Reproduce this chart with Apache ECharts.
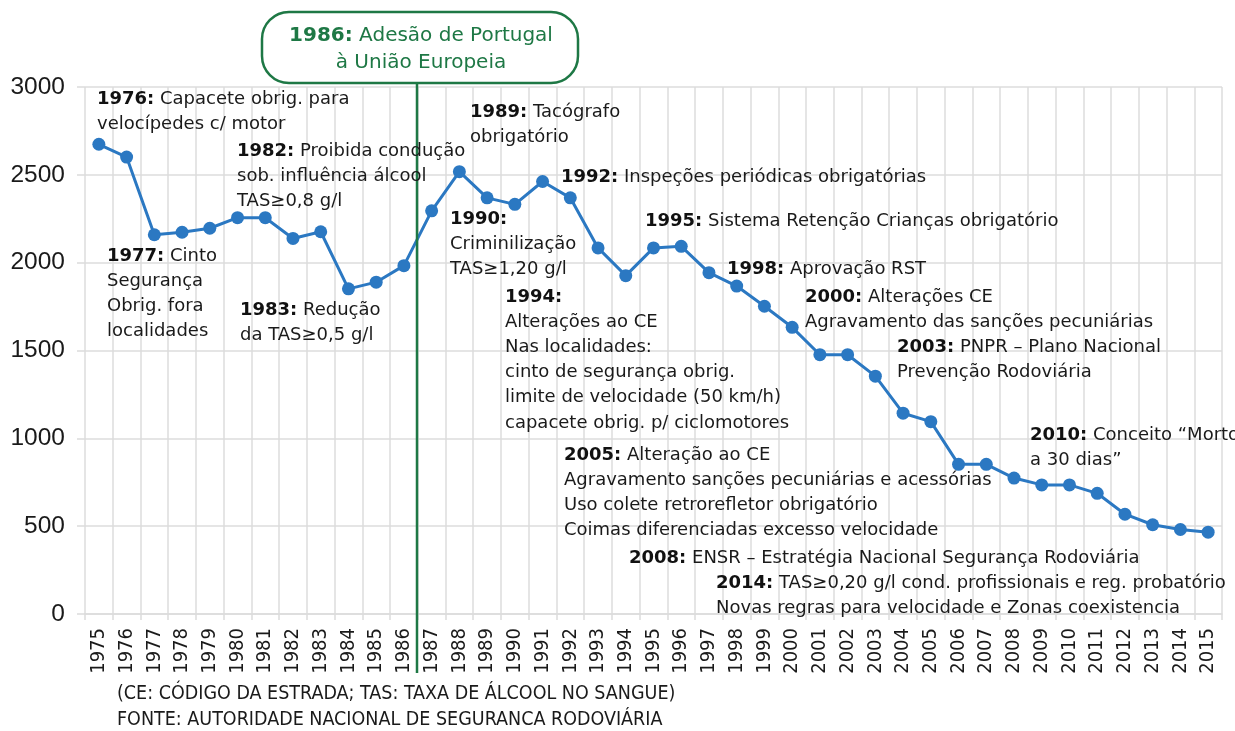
<!DOCTYPE html>
<html>
<head>
<meta charset="utf-8">
<script src="https://cdn.jsdelivr.net/npm/echarts@6/dist/echarts.min.js"></script>
<style>
  html, body { margin: 0; padding: 0; background: #fff; }
  #chart { width: 1235px; height: 731px; }
</style>
</head>
<body>
<div id="chart"></div>
<script>
// dados: vítimas mortais por ano
var years = ['1975','1976','1977','1978','1979','1980','1981','1982','1983','1984','1985','1986','1987','1988',
  '1989','1990','1991','1992','1993','1994','1995','1996','1997','1998','1999','2000','2001','2002','2003',
  '2004','2005','2006','2007','2008','2009','2010','2011','2012','2013','2014','2015'];
var deaths = [2674,2601,2159,2173,2196,2256,2256,2138,2176,1851,1889,1983,2295,2518,
  2369,2332,2462,2369,2084,1926,2084,2093,1943,1867,1752,1632,1476,1476,1354,
  1143,1095,852,852,774,735,735,687,568,508,481,466];
var yTicks = [0, 500, 1000, 1500, 2000, 2500, 3000];

var noteYears = ['1976','1977','1982','1983','1989','1990','1992','1994','1995','1998','2000','2003','2005','2008','2010','2014'];
var noteTexts = [
  'Capacete obrig. para\nvelocípedes c/ motor',
  'Cinto\nSegurança\nObrig. fora\nlocalidades',
  'Proibida condução\nsob. influência álcool\nTAS≥0,8 g/l',
  'Redução\nda TAS≥0,5 g/l',
  'Tacógrafo\nobrigatório',
  '\nCriminilização\nTAS≥1,20 g/l',
  'Inspeções periódicas obrigatórias',
  '\nAlterações ao CE\nNas localidades:\ncinto de segurança obrig.\nlimite de velocidade (50 km/h)\ncapacete obrig. p/ ciclomotores',
  'Sistema Retenção Crianças obrigatório',
  'Aprovação RST',
  'Alterações CE\nAgravamento das sanções pecuniárias',
  'PNPR – Plano Nacional\nPrevenção Rodoviária',
  'Alteração ao CE\nAgravamento sanções pecuniárias e acessórias\nUso colete retrorefletor obrigatório\nCoimas diferenciadas excesso velocidade',
  'ENSR – Estratégia Nacional Segurança Rodoviária',
  'Conceito “Morto\na 30 dias”',
  'TAS≥0,20 g/l cond. profissionais e reg. probatório\nNovas regras para velocidade e Zonas coexistencia'
];
var euYear = '1986';
var euText = ['Adesão de Portugal', 'à União Europeia'];
var footer = ['(CE: CÓDIGO DA ESTRADA; TAS: TAXA DE ÁLCOOL NO SANGUE)',
  'FONTE: AUTORIDADE NACIONAL DE SEGURANCA RODOVIÁRIA'];

// posição das notas (esquerda, centro da 1.ª linha), em px
var notePos = [[97,99],[107,256],[237,151],[240,310],[470,112],[450,219],[561,177],[505,297],
  [645,221],[727,269],[805,297],[897,347],[564,455],[629,558],[1030,435],[716,583]];

var grey = '#dcdcdc';
var blue = '#2b78c2';
var green = '#1e7845';
var lh = 25.2;

var chart = echarts.init(document.getElementById('chart'));
chart.setOption({
  animation: false,
  grid: { left: 85, right: 13, top: 87, bottom: 117 },
  xAxis: {
    type: 'category', data: years, boundaryGap: true,
    axisLine: { lineStyle: { color: grey, width: 1.5 } },
    axisTick: { show: true, length: 6, lineStyle: { color: grey, width: 1.5 } },
    splitLine: { show: true, lineStyle: { color: grey, width: 1.5 } },
    axisLabel: { rotate: 90, interval: 0, margin: 14, color: '#1a1a1a', fontSize: 20,
      fontFamily: '"Liberation Sans Narrow", "DejaVu Sans Condensed", sans-serif' }
  },
  yAxis: {
    type: 'value', min: yTicks[0], max: yTicks[yTicks.length - 1], interval: yTicks[1] - yTicks[0],
    axisLine: { show: false },
    axisTick: { show: true, length: 8, lineStyle: { color: grey, width: 1.5 } },
    splitLine: { lineStyle: { color: grey, width: 1.5 } },
    axisLabel: { margin: 20, color: '#1a1a1a', fontSize: 24.5, fontFamily: '"Liberation Sans", Arial, sans-serif',
      formatter: function (v) { return String(v); } }
  },
  series: [{
    type: 'line', data: deaths, symbol: 'circle', symbolSize: 13,
    lineStyle: { color: blue, width: 3 },
    itemStyle: { color: blue }, z: 3
  }]
});

var font = '"DejaVu Sans", sans-serif';
var els = [];
noteTexts.forEach(function (t, i) {
  els.push({
    type: 'text', x: notePos[i][0], y: notePos[i][1] - lh / 2, z: 10,
    style: {
      text: '{b|' + noteYears[i] + ':} ' + t,
      fontSize: 18, fontFamily: font, fill: '#1a1a1a', lineHeight: lh, verticalAlign: 'top',
      rich: { b: { fontSize: 18, fontFamily: font, fontWeight: 'bold', fill: '#111', lineHeight: lh } }
    }
  });
});

// linha verde da adesão à UE, entre 1986 e 1987
var xa = chart.convertToPixel({ xAxisIndex: 0 }, euYear);
var xb = chart.convertToPixel({ xAxisIndex: 0 }, years[years.indexOf(euYear) + 1]);
var xm = Math.round((xa + xb) / 2) - 1;
els.push({ type: 'line', z: 5, shape: { x1: xm, y1: 83, x2: xm, y2: 673 },
  style: { stroke: green, lineWidth: 2.5 } });
els.push({ type: 'rect', z: 6, shape: { x: xm - 155, y: 12, width: 316, height: 71, r: 27 },
  style: { fill: '#fff', stroke: green, lineWidth: 2.5 } });
els.push({ type: 'text', z: 7, x: xm + 4, y: 49.5,
  style: { text: '{b|' + euYear + ':} ' + euText[0] + '\n' + euText[1], align: 'center', verticalAlign: 'middle',
    fontSize: 20, fontFamily: font, fill: green, lineHeight: 27,
    rich: { b: { fontSize: 20, fontFamily: font, fontWeight: 'bold', fill: green, lineHeight: 27 } } } });

footer.forEach(function (t, i) {
  els.push({ type: 'text', x: 117, y: 694 + i * 26,
    style: { text: t, fontSize: 19.5, fill: '#1a1a1a', verticalAlign: 'middle',
      fontFamily: '"Liberation Sans Narrow", "DejaVu Sans Condensed", sans-serif' } });
});

chart.setOption({ graphic: els });
</script>
</body>
</html>
